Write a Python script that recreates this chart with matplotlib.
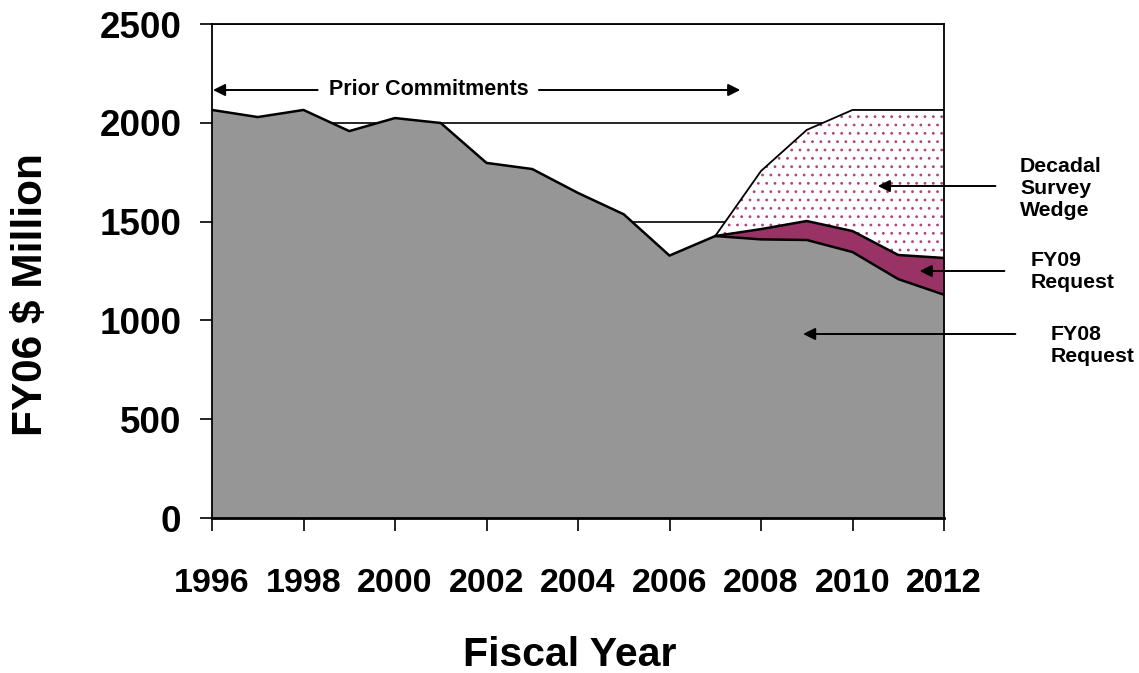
import numpy as np
import matplotlib
matplotlib.use('Agg')
import matplotlib.pyplot as plt

# DATA
years = np.arange(1996, 2013)
fy08_request = [2065, 2029, 2065, 1958, 2024, 1999, 1797, 1766, 1645, 1537,
                1328, 1427, 1410, 1407, 1346, 1209, 1130]
out_years = np.arange(2007, 2013)
fy09_request = [1427, 1462, 1503, 1452, 1331, 1316]   # top of FY09 band
decadal_wedge = [1427, 1756, 1964, 2065, 2065, 2065]  # top of wedge
xtick_years = np.arange(1996, 2013, 2)
yticks = [0, 500, 1000, 1500, 2000, 2500]

BOLD = 'Liberation Sans'
W, H = 1139, 673
plt.rcParams['hatch.linewidth'] = 0.8

fig = plt.figure(figsize=(W / 100, H / 100), dpi=100)
ax = fig.add_axes([212 / W, 1 - 518 / H, (944 - 212) / W, (518 - 24) / H])

fy08_out = np.interp(out_years, years, fy08_request)

# areas
ax.fill_between(years, 0, fy08_request, color='#969696', lw=0, zorder=2)
ax.fill_between(out_years, fy08_out, fy09_request, color='#993366', lw=0, zorder=2)
ax.fill_between(out_years, fy09_request, decadal_wedge, facecolor='white',
                edgecolor='#b0447a', hatch='..', lw=0, zorder=2)

# outlines
ax.plot(years, fy08_request, color='black', lw=1.8, zorder=3)
ax.plot(out_years, fy09_request, color='black', lw=1.8, zorder=3)
ax.plot(out_years, decadal_wedge, color='black', lw=1.3, zorder=3)

ax.set_xlim(1996, 2012)
ax.set_ylim(0, 2500)
ax.set_axisbelow(True)
ax.yaxis.grid(True, color='black', lw=1.2, zorder=0)

ax.set_yticks(yticks)
ax.set_yticklabels([str(v) for v in yticks], fontfamily=BOLD, fontweight='bold', fontsize=26.5)
ax.set_xticks(list(xtick_years) + [2012])
ax.set_xticklabels([str(v) for v in xtick_years] + ['2012'], fontfamily=BOLD,
                   fontweight='bold', fontsize=24.5)
ax.xaxis.get_major_ticks()[-1].tick1line.set_visible(False)
ax.tick_params(axis='y', length=9, width=1.2, pad=13, direction='out')
ax.tick_params(axis='x', length=9, width=1.2, pad=27, direction='out')
for s in ax.spines.values():
    s.set_linewidth(1.3)
    s.set_zorder(4)
ax.spines['bottom'].set_linewidth(2)

# axis titles
fig.text(31 / W, 1 - 295 / H, 'FY06 $ Million', rotation=90, ha='center', va='center',
         fontfamily=BOLD, fontweight='bold', fontsize=30.5)
fig.text(570 / W, 1 - 655 / H, 'Fiscal Year', ha='center', va='center',
         fontfamily=BOLD, fontweight='bold', fontsize=29.5)

# annotations
def px2data(px, py):
    return 1996 + (px - 212) / 45.9, (518 - py) / 0.1976

arrow = dict(arrowstyle='-|>', color='black', lw=1.4, mutation_scale=18, shrinkA=0, shrinkB=0)
ax.annotate('', xy=px2data(213, 90), xytext=px2data(318, 90), arrowprops=arrow, annotation_clip=False)
ax.annotate('', xy=px2data(742, 90), xytext=px2data(540, 90), arrowprops=arrow, annotation_clip=False)
ax.text(*px2data(430, 89), 'Prior Commitments', ha='center', va='center',
        fontfamily=BOLD, fontweight='bold', fontsize=15.5)

ax.annotate('', xy=px2data(880, 186), xytext=px2data(998, 186), arrowprops=arrow, annotation_clip=False)
ax.annotate('', xy=px2data(922, 271), xytext=px2data(1007, 271), arrowprops=arrow, annotation_clip=False)
ax.annotate('', xy=px2data(805, 334), xytext=px2data(1018, 334), arrowprops=arrow, annotation_clip=False)

fig.text(1020 / W, 1 - 188 / H, 'Decadal\nSurvey\nWedge', ha='left', va='center',
         fontfamily=BOLD, fontweight='bold', fontsize=15.3, linespacing=1.2)
fig.text(1031 / W, 1 - 272 / H, 'FY09\nRequest', ha='left', va='center',
         fontfamily=BOLD, fontweight='bold', fontsize=15.3, linespacing=1.2)
fig.text(1051 / W, 1 - 346 / H, 'FY08\nRequest', ha='left', va='center',
         fontfamily=BOLD, fontweight='bold', fontsize=15.3, linespacing=1.2)

fig.savefig('out.png', dpi=100)
